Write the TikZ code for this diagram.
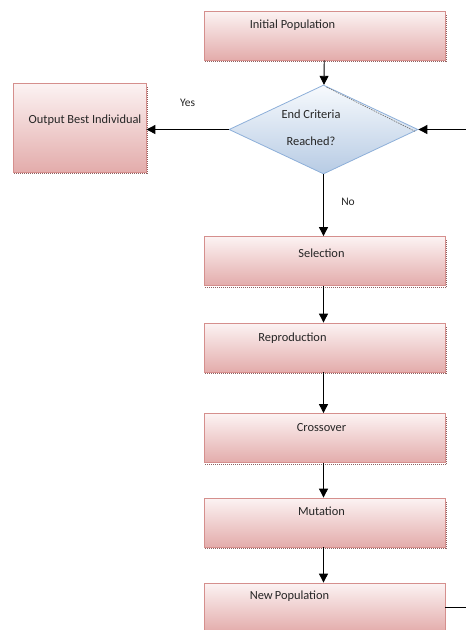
\documentclass[tikz,border=0pt]{standalone}
\usepackage{fontspec}
\setmainfont{Carlito}
\usepackage{xcolor}
\usetikzlibrary{arrows.meta,positioning,calc,shapes.geometric}
\definecolor{boxtop}{HTML}{FCF3F3}
\definecolor{boxbot}{HTML}{E3ACAB}
\definecolor{boxedge}{HTML}{D58F8D}
\definecolor{boxshade}{HTML}{8C6060}
\definecolor{dectop}{HTML}{F7FAFD}
\definecolor{decbot}{HTML}{B7CBE4}
\definecolor{decedge}{HTML}{8DAFD9}

\begin{document}
\begin{tikzpicture}[x=1pt,y=-1pt,
  stage/.style={rectangle, draw=boxedge, line width=0.8pt,
    top color=boxtop, bottom color=boxbot,
    minimum width=241pt, minimum height=49pt, inner sep=0pt},
  stagetext/.style={font=\fontsize{12.4}{14}\selectfont, text=black!85},
  decision/.style={diamond, draw=decedge, line width=0.8pt,
    top color=dectop, bottom color=decbot, aspect=2.17,
    minimum width=189pt, minimum height=89pt, inner sep=0pt},
  shadowline/.style={boxshade, line width=1pt, dash pattern=on 1pt off 1pt},
  flow/.style={line width=0.9pt, -{Triangle[length=9pt,width=9pt]}}]
\clip (0,0) rectangle (466,630);

% --- main column ---
\node[stage, label={[stagetext,xshift=-32pt,yshift=10pt]center:Initial Population}] (init) at (324.5,35.5) {};
\node[decision] (dec) at (323.5,129.5) {};
\node[stagetext, align=center, font=\fontsize{12.4}{27}\selectfont] (dectext) at (311,128) {End Criteria\\Reached?};
\node[stage, label={[stagetext,xshift=-3pt,yshift=8pt]center:Selection}] (sel) at (324.5,261) {};
\node[stage, label={[stagetext,xshift=-32pt,yshift=9.5pt]center:Reproduction}] (rep) at (324.5,347.5) {};
\node[stage, label={[stagetext,xshift=-3pt,yshift=10pt]center:Crossover}] (cross) at (324.5,438) {};
\node[stage, label={[stagetext,xshift=-3pt,yshift=11.5pt]center:Mutation}] (mut) at (324.5,522.5) {};
\node[stage, label={[stagetext,xshift=-35pt,yshift=11pt]center:New\,Population}] (new) at (324.5,607.5) {};

% --- result box ---
\node[stage, minimum width=133pt, minimum height=89pt,
  label={[stagetext,xshift=5.5pt,yshift=7pt]center:Output Best Individual}] (out) at (79.5,127.5) {};

% dotted shadows under the boxes
\foreach \n in {init,sel,rep,cross,mut,out}
  \draw[shadowline] ([shift={(1.5pt,-1.5pt)}]\n.south west) -- ([shift={(1.5pt,-1.5pt)}]\n.south east)
    -- ([shift={(1.5pt,-4pt)}]\n.north east);
\draw[black!55, line width=0.6pt, dash pattern=on 1.5pt off 1pt]
  ([shift={(3pt,-2.5pt)}]dec.north) -- ([shift={(-3pt,-2pt)}]dec.east);

% --- loop ends at the page edge ---
\coordinate (back) at (466,129.5);
\coordinate (loopend) at (back |- new.east);

% --- connectors ---
\draw[flow] (init) -- (dec);
\draw[flow] (dec.west) -- node[midway, above=19pt, stagetext, font=\fontsize{11.5}{13}\selectfont] (yes) {Yes} (out.east |- dec.west);
\draw[flow] (back) -- (dec.east);
\draw[flow] (dec.south) -- node[pos=0.45, right=14pt, stagetext, font=\fontsize{11.5}{13}\selectfont] (no) {No} (sel.north -| dec.south);
\draw[flow] (sel.south -| dec.south) -- (rep.north -| dec.south);
\draw[flow] (rep.south -| dec.south) -- (cross.north -| dec.south);
\draw[flow] (cross.south -| dec.south) -- (mut.north -| dec.south);
\draw[flow] (mut.south -| dec.south) -- (new.north -| dec.south);
\draw[line width=0.9pt] (new.east) -- (loopend);
\end{tikzpicture}
\end{document}
